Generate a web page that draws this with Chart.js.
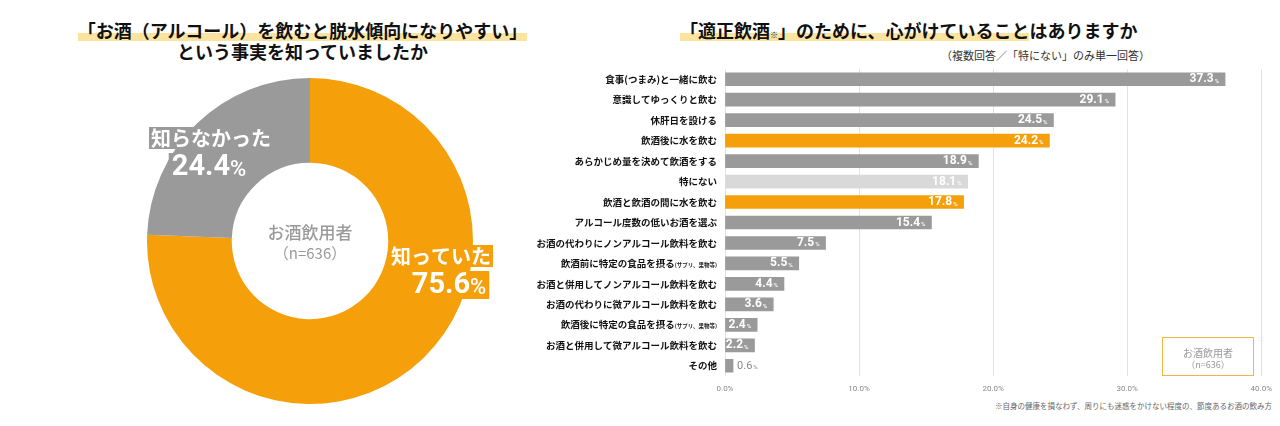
<!DOCTYPE html>
<html>
<head>
<meta charset="utf-8">
<script src="https://cdn.jsdelivr.net/npm/chart.js@4"></script>
<style>
  body { margin: 0; width: 1280px; height: 426px; background: #fff; position: relative; overflow: hidden;
         font-family: "Noto Sans CJK JP", "Noto Sans", sans-serif; }
  .abs { position: absolute; }
  .title { font-size: 18px; font-weight: 700; color: #111; line-height: 21px; white-space: nowrap; }
  .mark { background: linear-gradient(transparent 62%, #fce4a0 62%, #fce4a0 92%, transparent 92%); }
  .kome { font-size: 8px; }
  #pieBox { left: 0; top: 78px; width: 620px; height: 326px; }
  #barBox { left: 500px; top: 60px; width: 780px; height: 334px; }
</style>
</head>
<body>

<div class="abs title" style="left:0;width:605px;top:20px;text-align:center;">
  <span class="mark">「お酒（アルコール）を飲むと脱水傾向になりやすい」</span><br>という事実を知っていましたか
</div>

<div class="abs title" style="left:680px;top:20px;">
  <span class="mark">「適正飲酒<span class="kome">※</span>」のために、心がけていること</span>はありますか
</div>
<div class="abs" style="right:130px;top:47px;font-size:11px;color:#333;white-space:nowrap;">（複数回答／「特にない」のみ単一回答）</div>

<div class="abs" id="pieBox"><canvas id="pie"></canvas></div>
<div class="abs" id="barBox"><canvas id="bar"></canvas></div>

<div class="abs" style="left:1162px;top:337px;width:90px;height:35px;border:1.5px solid #f6b445;text-align:center;color:#999;font-size:10px;line-height:12px;padding-top:2px;">
  <div style="margin-top:7px;">お酒飲用者</div><div style="font-size:9px;">（n=636）</div>
</div>
<div class="abs" style="right:8px;top:400px;font-size:7.5px;color:#666;white-space:nowrap;">※自身の健康を損なわず、周りにも迷惑をかけない程度の、節度あるお酒の飲み方</div>

<script>
// ---- data ----
var pieLabels = ['知っていた', '知らなかった'];
var pieValues = [75.6, 24.4];

var barLabels = [
    '食事(つまみ)と一緒に飲む',
    '意識してゆっくりと飲む',
    '休肝日を設ける',
    '飲酒後に水を飲む',
    'あらかじめ量を決めて飲酒をする',
    '特にない',
    '飲酒と飲酒の間に水を飲む',
    'アルコール度数の低いお酒を選ぶ',
    'お酒の代わりにノンアルコール飲料を飲む',
    '飲酒前に特定の食品を摂る',
    'お酒と併用してノンアルコール飲料を飲む',
    'お酒の代わりに微アルコール飲料を飲む',
    '飲酒後に特定の食品を摂る',
    'お酒と併用して微アルコール飲料を飲む',
    'その他'
];
var barNotes = ['', '', '', '', '', '', '', '', '', '(サプリ、果物等)', '', '', '(サプリ、果物等)', '', ''];
var barValues = [37.3, 29.1, 24.5, 24.2, 18.9, 18.1, 17.8, 15.4, 7.5, 5.5, 4.4, 3.6, 2.4, 2.2, 0.6];
var xTicks = [0, 10, 20, 30, 40];

var ORANGE = '#f5a00b';
var GRAY = '#9a9a9a';
var LIGHT = '#d9d9d9';
var JP = '"Noto Sans CJK JP", sans-serif';

// ---- doughnut ----
var pieText = {
    id: 'pieText',
    afterDraw: function(chart) {
        var ctx = chart.ctx;
        var a = chart.getDatasetMeta(0).data[0];
        var cx = a.x, cy = a.y;
        ctx.save();
        ctx.textAlign = 'center';
        ctx.textBaseline = 'middle';
        ctx.fillStyle = '#9a9a9a';
        ctx.font = '500 17px ' + JP;
        ctx.fillText('お酒飲用者', cx, cy - 8);
        ctx.font = '15px ' + JP;
        ctx.fillText('（n=636）', cx, cy + 12);

        // slice labels: [dx, dy] from centre for name line, value line below
        var spots = [[131, 15], [-99, -103]];
        var cols = [ORANGE, GRAY];
        for (var i = 0; i < pieValues.length; i++) {
            var x = cx + spots[i][0], y = cy + spots[i][1];
            ctx.font = '700 20px ' + JP;
            var w = ctx.measureText(pieLabels[i]).width;
            ctx.fillStyle = cols[i];
            ctx.fillRect(x - w / 2 - 2, y - 11, w + 4, 22);
            ctx.fillStyle = '#fff';
            ctx.fillText(pieLabels[i], x, y);

            var num = pieValues[i].toFixed(1);
            ctx.font = '700 29px Roboto';
            var nw = ctx.measureText(num).width;
            ctx.font = '500 22px Roboto';
            var pw = ctx.measureText('%').width;
            var left = x - (nw + pw) / 2 + (i === 0 ? 8 : -2);
            ctx.fillStyle = cols[i];
            ctx.fillRect(left - 3, y + 15, nw + pw + 6, 28);
            ctx.textAlign = 'left';
            ctx.fillStyle = '#fff';
            ctx.font = '700 29px Roboto';
            ctx.fillText(num, left, y + 30);
            ctx.font = '500 22px Roboto';
            ctx.fillText('%', left + nw, y + 32);
            ctx.textAlign = 'center';
        }
        ctx.restore();
    }
};

new Chart(document.getElementById('pie'), {
    type: 'doughnut',
    data: {
        labels: pieLabels,
        datasets: [{
            data: pieValues,
            backgroundColor: [ORANGE, GRAY],
            borderWidth: 0
        }]
    },
    options: {
        responsive: true,
        maintainAspectRatio: false,
        animation: false,
        cutout: '48%',
        layout: { padding: 0 },
        plugins: { legend: { display: false }, tooltip: { enabled: false } }
    },
    plugins: [pieText]
});

// ---- bar ----
var barColors = barValues.map(function(v, i) {
    if (i === 3 || i === 6) return ORANGE;
    if (i === 5) return LIGHT;
    return GRAY;
});

var barText = {
    id: 'barText',
    afterDatasetsDraw: function(chart) {
        var ctx = chart.ctx;
        var meta = chart.getDatasetMeta(0);
        var ys = chart.scales.y;
        ctx.save();
        ctx.textBaseline = 'middle';
        meta.data.forEach(function(bar, i) {
            // category label
            var right = ys.right - 8;
            if (barNotes[i]) {
                ctx.font = '700 5.5px ' + JP;
                ctx.textAlign = 'right';
                ctx.fillStyle = '#222';
                ctx.fillText(barNotes[i], right, bar.y + 1);
                right -= ctx.measureText(barNotes[i]).width;
            }
            ctx.font = '700 9.5px ' + JP;
            ctx.textAlign = 'right';
            ctx.fillStyle = '#111';
            ctx.fillText(barLabels[i], right, bar.y);

            // value label
            var num = barValues[i].toFixed(1);
            ctx.textAlign = 'left';
            if (barValues[i] < 1) {
                ctx.fillStyle = '#888';
                ctx.font = '11px Roboto';
                var w0 = ctx.measureText(num).width;
                ctx.fillText(num, bar.x + 4, bar.y);
                ctx.font = '6px Roboto';
                ctx.fillText('%', bar.x + 4 + w0 + 1, bar.y + 2);
                return;
            }
            ctx.font = '700 12px Roboto';
            var nw = ctx.measureText(num).width;
            ctx.font = '500 6px Roboto';
            var pw = ctx.measureText('%').width;
            var x = bar.x - 6 - nw - pw - 1;
            ctx.fillStyle = '#fff';
            ctx.font = '700 12px Roboto';
            ctx.fillText(num, x, bar.y);
            ctx.font = '500 6px Roboto';
            ctx.fillText('%', x + nw + 1, bar.y + 2);
        });
        ctx.restore();
    }
};

new Chart(document.getElementById('bar'), {
    type: 'bar',
    data: {
        labels: barLabels,
        datasets: [{
            data: barValues,
            backgroundColor: barColors,
            borderWidth: 0,
            barThickness: 13
        }]
    },
    options: {
        indexAxis: 'y',
        responsive: true,
        maintainAspectRatio: false,
        animation: false,
        layout: { padding: { top: 9, right: 14, left: 0, bottom: 0 } },
        plugins: { legend: { display: false }, tooltip: { enabled: false } },
        scales: {
            x: {
                min: xTicks[0],
                max: xTicks[xTicks.length - 1],
                afterBuildTicks: function(scale) {
                    scale.ticks = xTicks.map(function(v) { return { value: v }; });
                },
                afterFit: function(scale) { scale.height = 18; },
                grid: { color: '#e2e2e2', drawTicks: false, lineWidth: 1 },
                border: { display: false },
                ticks: {
                    padding: 8,
                    color: '#888',
                    font: { family: 'Roboto', size: 8 },
                    callback: function(v) { return Number(v).toFixed(1) + '%'; }
                }
            },
            y: {
                afterFit: function(scale) { scale.width = 225; },
                grid: { display: false },
                border: { display: false },
                ticks: { display: false }
            }
        }
    },
    plugins: [barText]
});
</script>
</body>
</html>
